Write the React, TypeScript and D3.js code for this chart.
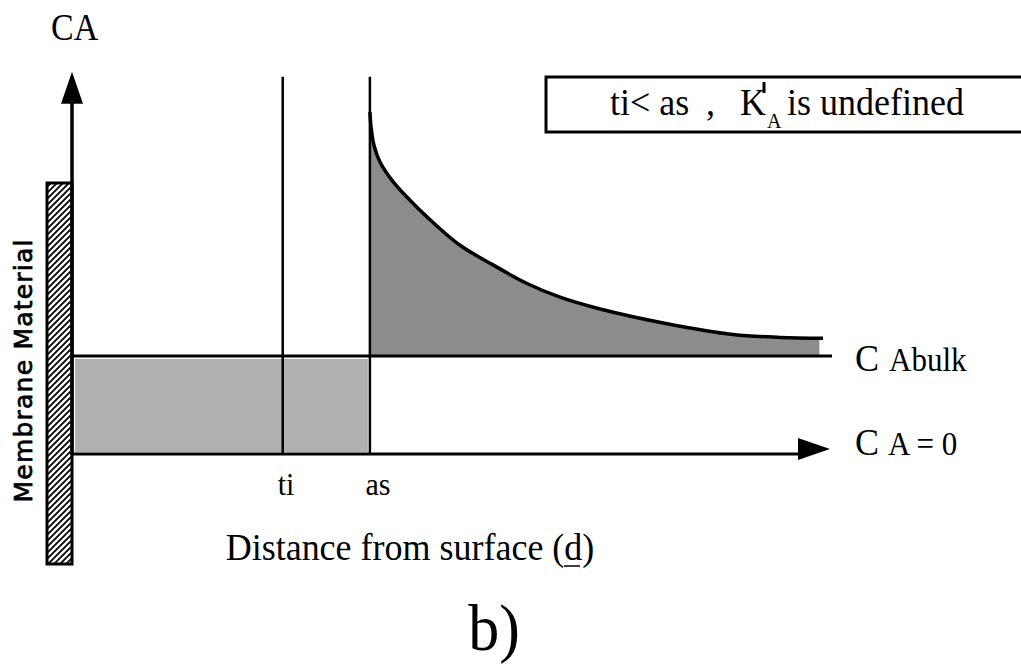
import React from "react";
import * as d3 from "d3";

// Distance from the surface (arbitrary units) and concentration (units of C_Abulk)
const tiPosition = 27.8;
const asPosition = 39.3;
const bulkLevel = 1;
const zeroLevel = 0;
const axisEnd = 100;
const axisTop = 3.9;
const markerTop = 3.85;

// Concentration profile beyond the adsorbed layer (as), decaying to bulk
const profileDistance = [39.31, 39.45, 39.84, 40.63, 42.35, 44.59, 46.83, 51.19, 55.54, 60.03, 64.38, 69.66, 78.5, 87.2, 93.4, 99.08];
const profileConc = [3.49, 3.34, 3.15, 2.98, 2.78, 2.59, 2.42, 2.13, 1.93, 1.74, 1.6, 1.48, 1.33, 1.22, 1.19, 1.18];

const tickLabels = ["ti", "as"];

const W = 1021;
const H = 668;
const serif = "'Liberation Serif', Tinos, 'DejaVu Serif', serif";

function T(props: any) {
  const { size, children, style, x, y, sy = 1.06, ...rest } = props;
  return (
    <text
      {...rest}
      transform={`translate(${x},${y}) scale(1,${sy})`}
      style={{ fontFamily: serif, fontSize: size, ...(style || {}) }}
    >
      {children}
    </text>
  );
}

export default function App() {
  const x = d3.scaleLinear().domain([0, axisEnd]).range([72, 830]);
  const y = d3.scaleLinear().domain([zeroLevel, bulkLevel]).range([454, 356]);

  const pts = profileDistance.map((d, i) => [d, profileConc[i]] as [number, number]);
  const curve = d3.curveCatmullRom.alpha(0.5);
  const line = d3
    .line<[number, number]>()
    .x((p) => x(p[0]))
    .y((p) => y(p[1]))
    .curve(curve);
  const area = d3
    .area<[number, number]>()
    .x((p) => x(p[0]))
    .y0(y(bulkLevel))
    .y1((p) => y(p[1]))
    .curve(curve);
  const fillPts = pts.slice(0, pts.length - 1).concat([[98.6, 1.18]]);

  const x0 = x(0);
  const yZero = y(zeroLevel);
  const yBulk = y(bulkLevel);
  const ticks = [tiPosition, asPosition];

  return (
    <svg width={W} height={H} style={{ display: "block", position: "absolute", left: 0, top: 0 }}>
      <defs>
        <pattern id="hatch" patternUnits="userSpaceOnUse" width={6} height={6}>
          <path d="M-1,7 L7,-1 M-2,2 L2,-2 M4,8 L8,4" stroke="#000" strokeWidth={1.8} />
        </pattern>
      </defs>
      <rect width={W} height={H} fill="#fff" />

      {/* shaded region between surface and as, up to bulk concentration */}
      <rect
        x={x0 + 3}
        y={yBulk + 3}
        width={x(asPosition) - x0 - 5}
        height={yZero - yBulk - 5}
        fill="#b0b0b0"
      />

      {/* excess concentration above bulk */}
      <path d={area(fillPts) || ""} fill="#8c8c8c" />

      {/* membrane wall */}
      <rect x={47} y={183} width={25} height={381} fill="url(#hatch)" stroke="#000" strokeWidth={3} />

      {/* bulk concentration line */}
      <line x1={x0} x2={x(axisEnd) + 2} y1={yBulk} y2={yBulk} stroke="#000" strokeWidth={3} />

      {/* ti and as markers */}
      {ticks.map((t, i) => (
        <line key={i} x1={x(t)} x2={x(t)} y1={y(markerTop)} y2={yZero} stroke="#000" strokeWidth={2.5} />
      ))}

      {/* concentration profile */}
      <path d={line(pts) || ""} fill="none" stroke="#000" strokeWidth={3.5} />

      {/* axes */}
      <line x1={x0} x2={x0} y1={y(axisTop) + 20} y2={yZero + 1} stroke="#000" strokeWidth={3.5} />
      <path
        d={`M${x0},${y(axisTop)} L${x0 - 11},${y(axisTop) + 32} L${x0 + 11},${y(axisTop) + 32} Z`}
        fill="#000"
      />
      <line x1={x0} x2={x(axisEnd) - 20} y1={yZero} y2={yZero} stroke="#000" strokeWidth={3} />
      <path
        d={`M${x(axisEnd)},${yZero - 5} L${x(axisEnd) - 32},${yZero - 16} L${x(axisEnd) - 32},${yZero + 6} Z`}
        fill="#000"
      />

      {/* labels */}
      <T x={51} y={40} size={34} sy={1.12}>CA</T>

      <text
        transform="translate(32,371) rotate(-90)"
        textAnchor="middle"
        textLength={263}
        stroke="#000"
        strokeWidth={0.7}
        style={{ fontFamily: "'DejaVu Sans', sans-serif", fontSize: 25 }}
      >
        Membrane Material
      </text>

      <T x={286} y={495} textAnchor="middle" size={30}>{tickLabels[0]}</T>
      <T x={378} y={495} textAnchor="middle" size={30}>{tickLabels[1]}</T>

      <T x={855} y={371} size={36}>C</T>
      <T x={889} y={371} size={31}>Abulk</T>
      <T x={855} y={455} size={36}>C</T>
      <T x={888} y={455} size={31}>A = 0</T>

      <T x={410} y={560} textAnchor="middle" size={36}>
        Distance from surface (d)
      </T>
      <line x1={564} x2={580} y1={566} y2={566} stroke="#000" strokeWidth={1.5} />

      <T x={494} y={650} textAnchor="middle" size={62} sy={1.04}>b)</T>

      {/* condition box */}
      <rect x={546} y={77} width={500} height={55} fill="#fff" stroke="#000" strokeWidth={3} />
      <T x={610} y={115} size={36}>ti&lt; as</T>
      <T x={706} y={115} size={36}>,</T>
      <T x={740} y={115} size={36}>K</T>
      <T x={767} y={128} size={20}>A</T>
      <line x1={764} x2={764} y1={82} y2={93} stroke="#000" strokeWidth={3} />
      <T x={787} y={115} size={36}>is undefined</T>
    </svg>
  );
}
